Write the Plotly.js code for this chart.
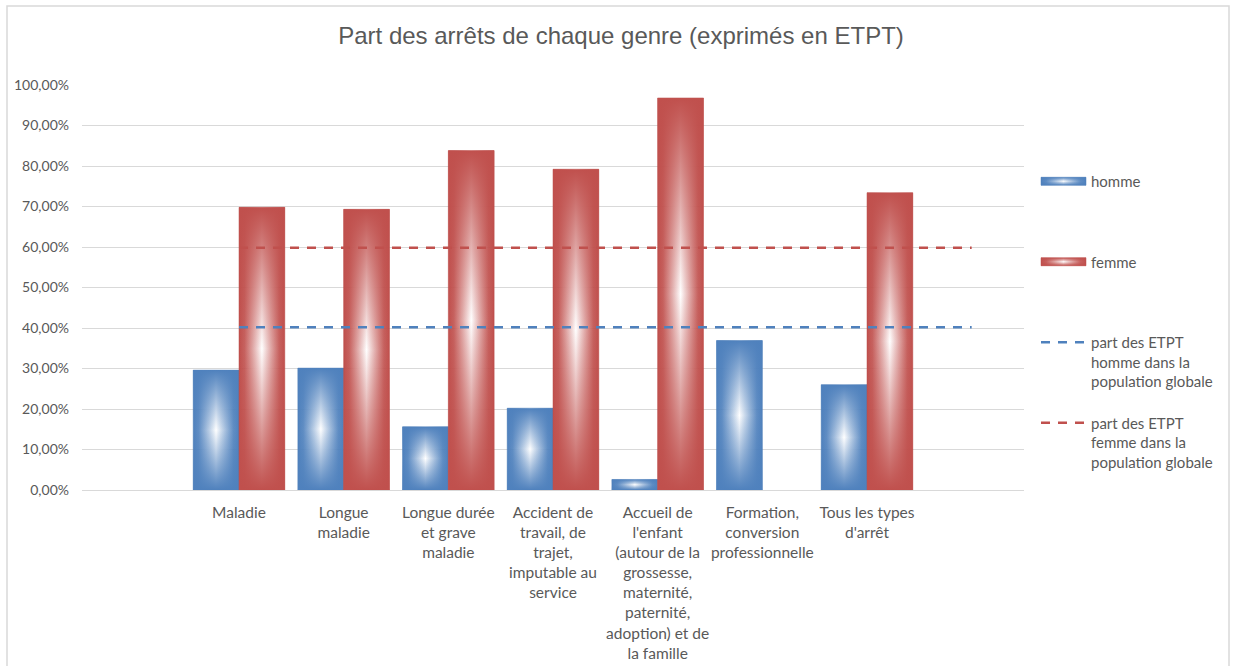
<!DOCTYPE html>
<html>
<head>
<meta charset="utf-8">
<script src="https://cdn.plot.ly/plotly-3.0.1.min.js"></script>
<style>
html,body{margin:0;padding:0;background:#fff;}
#chart{width:1234px;height:666px;}
</style>
</head>
<body>
<div id="chart"></div>
<script>
// ---- data ----
const categories = [
  "",
  "Maladie",
  "Longue<br>maladie",
  "Longue durée<br>et grave<br>maladie",
  "Accident de<br>travail, de<br>trajet,<br>imputable au<br>service",
  "Accueil de<br>l'enfant<br>(autour de la<br>grossesse,<br>maternité,<br>paternité,<br>adoption) et de<br>la famille",
  "Formation,<br>conversion<br>professionnelle",
  "Tous les types<br>d'arrêt",
  ""
];
const homme = [null, 0.296, 0.301, 0.156, 0.202, 0.026, 0.369, 0.260, null];
const femme = [null, 0.698, 0.693, 0.838, 0.792, 0.968, null, 0.734, null];
const partHomme = [null, 0.402, 0.402, 0.402, 0.402, 0.402, 0.402, 0.402, 0.402];
const partFemme = [null, 0.598, 0.598, 0.598, 0.598, 0.598, 0.598, 0.598, 0.598];
const seriesNames = [
  "homme<br>\u00a0<br>\u00a0",
  "femme<br>\u00a0<br>\u00a0",
  "part des ETPT<br>homme dans la<br>population globale",
  "part des ETPT<br>femme dans la<br>population globale"
];
const yTickValues = [0, 0.1, 0.2, 0.3, 0.4, 0.5, 0.6, 0.7, 0.8, 0.9, 1.0];
const chartTitle = "Part des arrêts de chaque genre (exprimés en ETPT)";

// ---- styles ----
const BLUE = "#4F81BD";
const RED = "#C0504D";
const TXT = "#595959";
const GRID = "#d9d9d9";
const FONT = "Lato, 'Noto Sans', sans-serif";

const xIdx = categories.map((_, i) => i);

const traces = [
  {type: "bar", name: seriesNames[0], x: xIdx, y: homme, legendgroup: "g1",
   marker: {color: BLUE, line: {color: "#4A7AB5", width: 0.5}}, hoverinfo: "skip"},
  {type: "bar", name: seriesNames[1], x: xIdx, y: femme, legendgroup: "g2",
   marker: {color: RED, line: {color: "#B94A47", width: 0.5}}, hoverinfo: "skip"},
  {type: "scatter", mode: "lines", name: seriesNames[2], x: xIdx, y: partHomme, legendgroup: "g3",
   line: {color: BLUE, width: 2.5, dash: "9px,8px"}, hoverinfo: "skip"},
  {type: "scatter", mode: "lines", name: seriesNames[3], x: xIdx, y: partFemme, legendgroup: "g4",
   line: {color: RED, width: 2.5, dash: "9px,8px"}, hoverinfo: "skip"}
];

const L = 82, R = 210, T = 85, B = 176;
const PW = 1234 - L - R, PH = 666 - T - B;

const layout = {
  width: 1234, height: 666,
  margin: {l: L, r: R, t: T, b: B, pad: 0},
  paper_bgcolor: "#fff", plot_bgcolor: "#fff",
  separators: ", ",
  font: {family: FONT, color: TXT, size: 14},
  title: {
    text: chartTitle,
    font: {family: "'Liberation Sans', Arial, sans-serif", size: 24, color: TXT},
    xref: "container", x: 621 / 1234, xanchor: "center",
    yref: "container", y: 1 - 36 / 666, yanchor: "middle"
  },
  barmode: "group", bargap: 0.125, bargroupgap: 0,
  xaxis: {
    range: [-0.5, categories.length - 0.5],
    tickmode: "array", tickvals: xIdx, ticktext: categories,
    showgrid: false, zeroline: false,
    showline: true, linecolor: GRID, linewidth: 1,
    ticks: "", ticklabelstandoff: 8, tickangle: 0,
    tickfont: {family: FONT, size: 15.5, color: TXT},
    fixedrange: true
  },
  yaxis: {
    range: [0, 1],
    tickmode: "array", tickvals: yTickValues, tickformat: ".2%",
    showgrid: true, gridcolor: GRID, gridwidth: 1,
    zeroline: false, showline: false, ticks: "",
    ticklabelstandoff: 12,
    tickfont: {family: FONT, size: 14, color: TXT},
    fixedrange: true
  },
  showlegend: true,
  legend: {
    x: (1036 - L) / PW, xanchor: "left",
    y: (490 - 165) / PH, yanchor: "top",
    traceorder: "grouped", tracegroupgap: 19,
    valign: "top", itemwidth: 45,
    font: {family: FONT, size: 15, color: TXT},
    bgcolor: "rgba(0,0,0,0)"
  },
  shapes: [{
    type: "rect", xref: "paper", yref: "paper", layer: "below",
    x0: (7 - L) / PW, x1: (1229 - L) / PW,
    y0: (490 - 700) / PH, y1: (490 - 6) / PH,
    line: {color: GRID, width: 1.5}, fillcolor: "rgba(0,0,0,0)"
  }]
};

function applyGradients(gd) {
  const ns = "http://www.w3.org/2000/svg";
  const svg = gd.querySelector("svg.main-svg");
  let defs = svg.querySelector("defs");
  if (!defs) { defs = document.createElementNS(ns, "defs"); svg.insertBefore(defs, svg.firstChild); }
  function grad(id, stops, vertical) {
    const g = document.createElementNS(ns, "linearGradient");
    g.setAttribute("id", id);
    g.setAttribute("x1", "0"); g.setAttribute("y1", "0");
    g.setAttribute("x2", vertical ? "0" : "1"); g.setAttribute("y2", vertical ? "1" : "0");
    stops.forEach(s => {
      const st = document.createElementNS(ns, "stop");
      st.setAttribute("offset", s[0]);
      st.setAttribute("stop-color", s[1]);
      st.setAttribute("stop-opacity", s[2]);
      g.appendChild(st);
    });
    defs.appendChild(g);
  }
  const cols = {b: BLUE, r: RED};
  Object.keys(cols).forEach(k => {
    const c = cols[k];
    grad("h_" + k, [[0, c, 1], [0.12, c, 0.9], [0.5, "#ffffff", 1], [0.88, c, 0.9], [1, c, 1]], false);
    grad("v_" + k, [[0, c, 1], [0.5, c, 0], [1, c, 1]], true);
  });
  const keys = ["b", "r"];
  const barTraces = gd.querySelectorAll(".barlayer .trace.bars");
  barTraces.forEach((tr, i) => {
    const k = keys[i];
    tr.querySelectorAll(".point path").forEach(p => {
      p.style.fill = "url(#h_" + k + ")";
      const clone = p.cloneNode(true);
      clone.style.fill = "url(#v_" + k + ")";
      clone.style.stroke = "none";
      p.parentNode.insertBefore(clone, p.nextSibling);
    });
  });
  // legend swatches
  const legendTraces = Array.from(gd.querySelectorAll(".legend .traces"));
  let x0 = 5, x1 = 50;
  for (const t of legendTraces) {
    const paths = Array.from(t.querySelectorAll("path"));
    const lp = paths.find(p => /^M[\d.]+,0h/.test(p.getAttribute("d") || ""));
    if (lp) { const bb = lp.getBBox(); if (bb.width > 0) { x0 = bb.x; x1 = bb.x + bb.width; } break; }
  }
  let bi = 0;
  legendTraces.forEach(t => {
    const paths = Array.from(t.querySelectorAll("path"));
    const bp = paths.find(p => /Z\s*$/i.test(p.getAttribute("d") || "") && !p.classList.contains("legendtoggle"));
    if (bp && bi < 2) {
      const k = keys[bi++];
      bp.removeAttribute("transform");
      bp.setAttribute("d", "M" + x0 + ",4H" + x1 + "V-4H" + x0 + "Z");
      bp.style.fill = "url(#h_" + k + ")";
      const clone = bp.cloneNode(true);
      clone.style.fill = "url(#v_" + k + ")";
      clone.style.stroke = "none";
      bp.parentNode.insertBefore(clone, bp.nextSibling);
    }
  });
}

Plotly.newPlot("chart", traces, layout, {staticPlot: true, displayModeBar: false})
  .then(gd => applyGradients(gd));
</script>
</body>
</html>
